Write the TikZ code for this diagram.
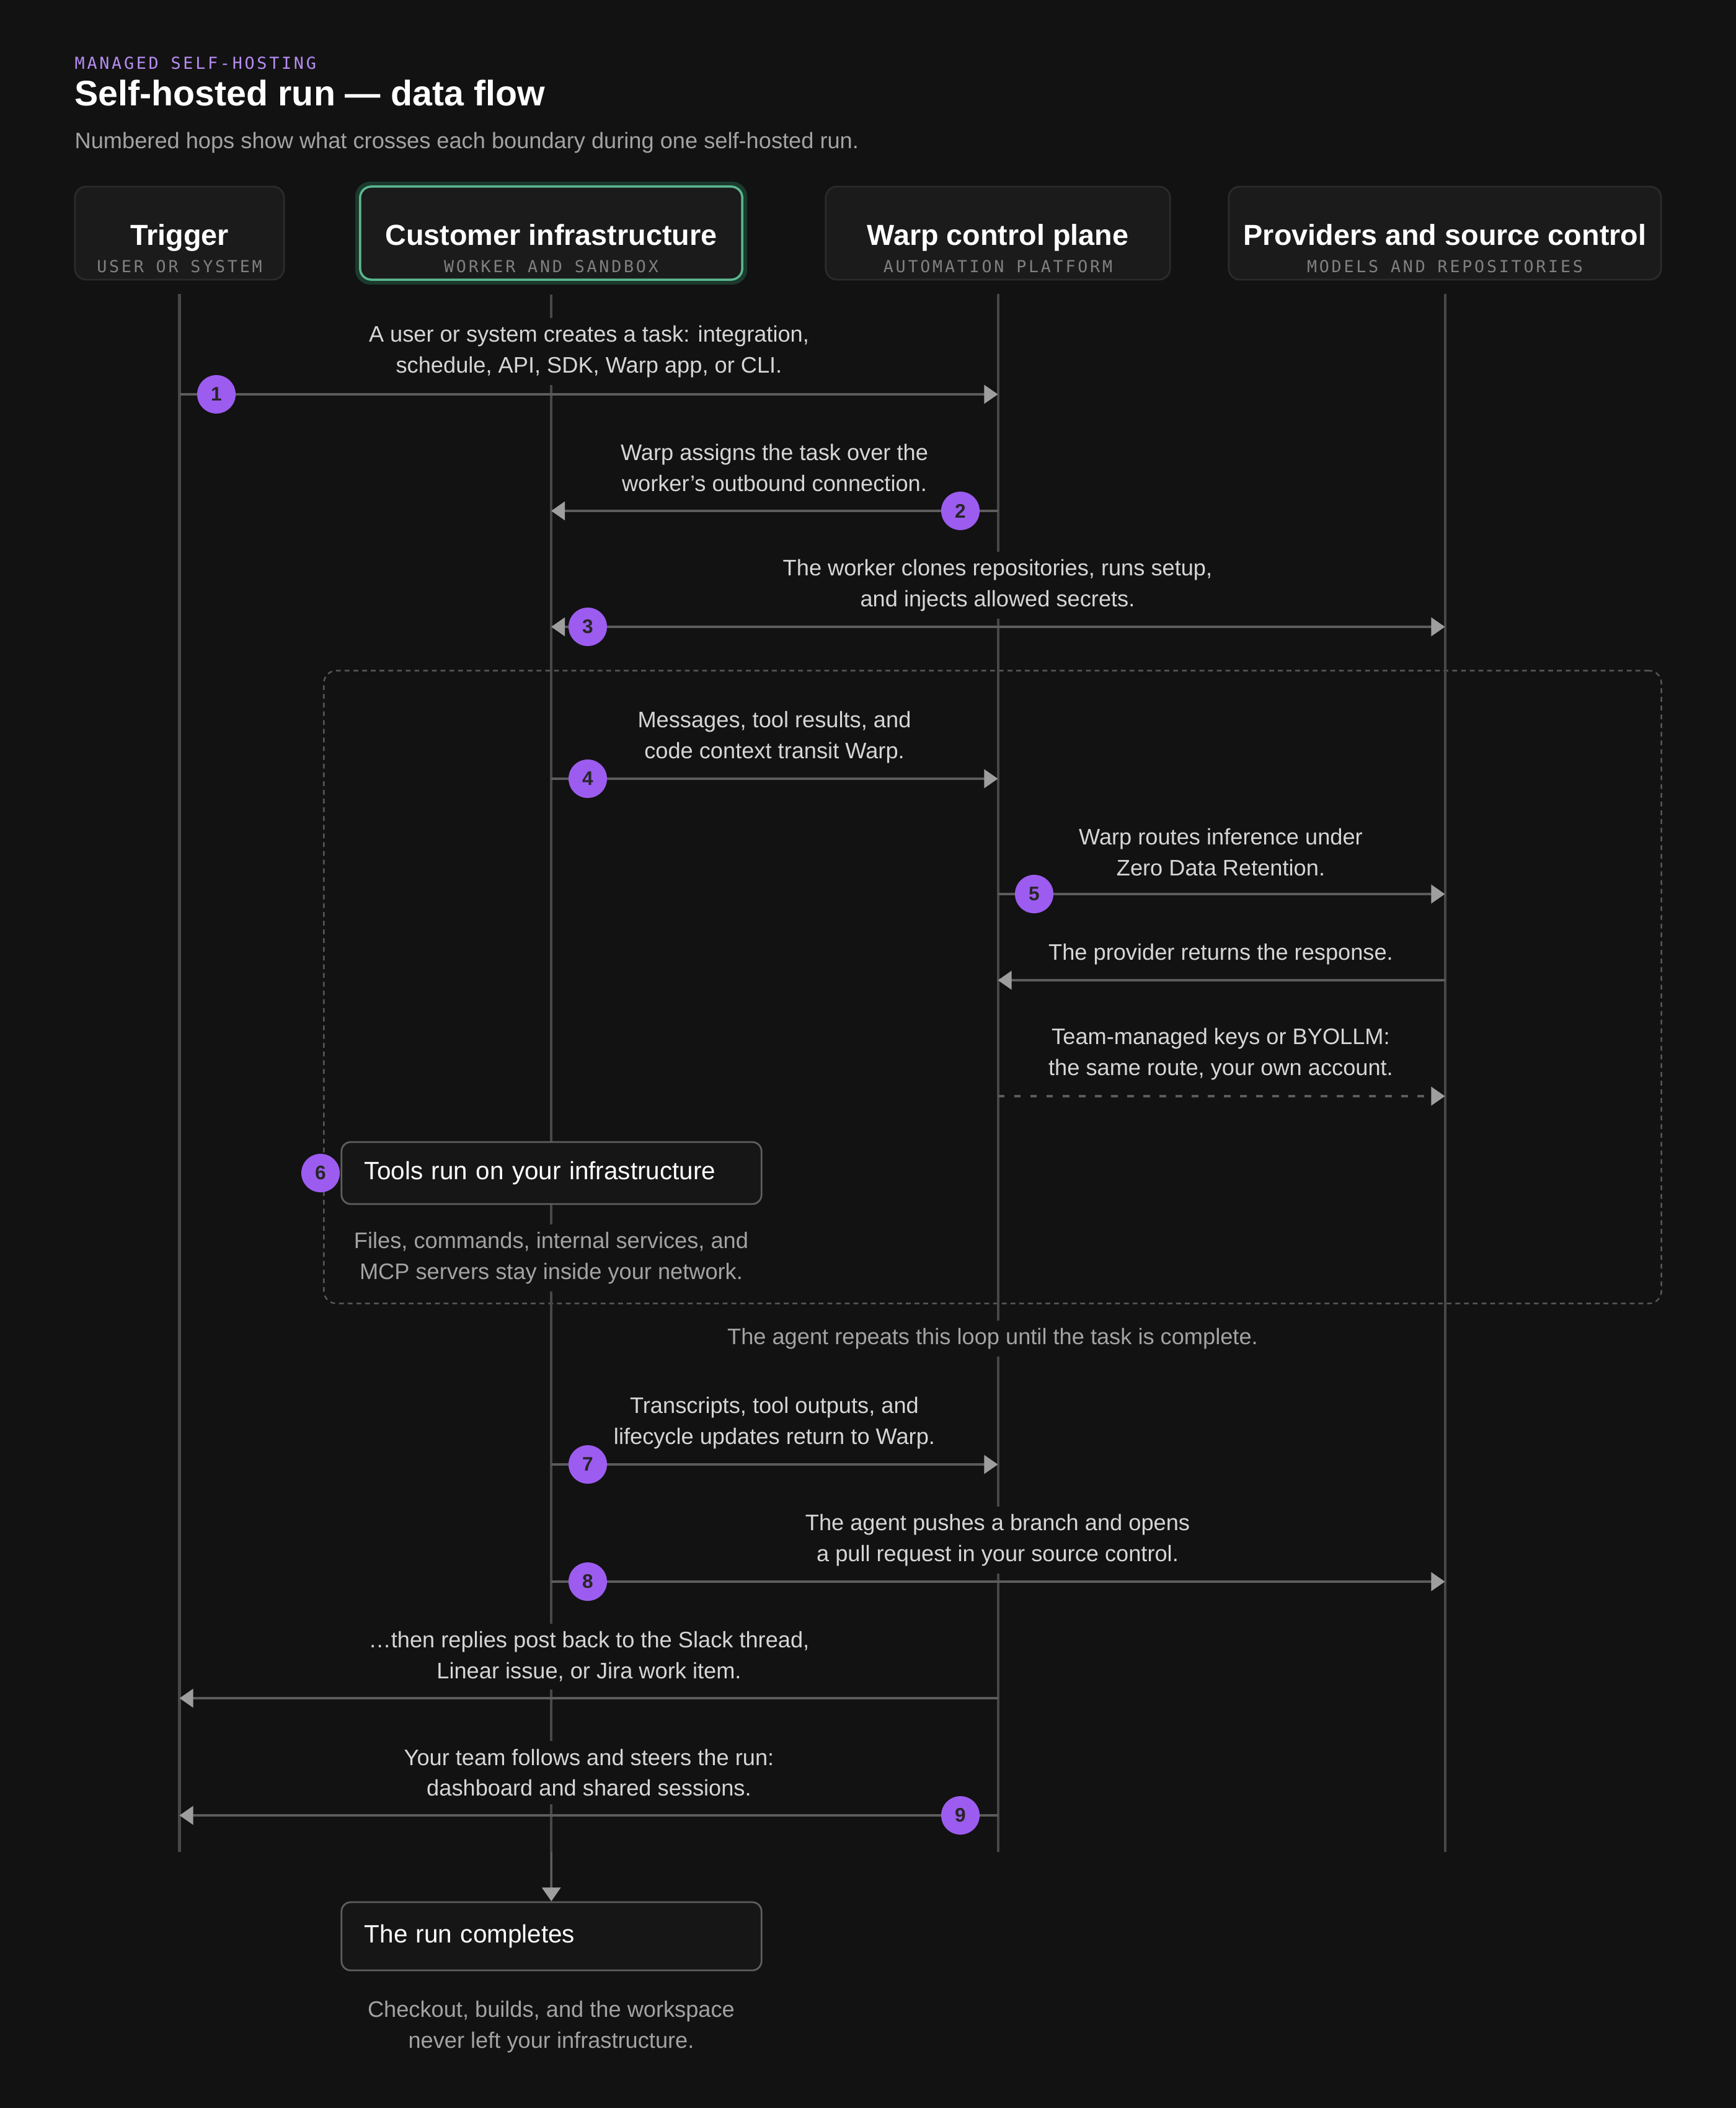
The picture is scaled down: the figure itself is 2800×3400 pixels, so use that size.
\documentclass[tikz,border=0pt]{standalone}
\usepackage{fontspec}
\setmainfont{Liberation Sans}
\newfontfamily\tagfamily{DejaVu Sans Mono}[LetterSpace=14]
\usepackage{tikz}
\usetikzlibrary{arrows.meta}
\pgfdeclarelayer{nodelayer}
\pgfdeclarelayer{edgelayer}
\pgfsetlayers{edgelayer,nodelayer,main}

\definecolor{bg}{HTML}{121212}
\definecolor{panel}{HTML}{1B1B1B}
\definecolor{panelline}{HTML}{2B2B2B}
\definecolor{mint}{HTML}{5CB892}
\definecolor{mintglow}{HTML}{1B3A2E}
\definecolor{lifegray}{HTML}{484848}
\definecolor{msggray}{HTML}{5C5C5C}
\definecolor{tipgray}{HTML}{9E9E9E}
\definecolor{framegray}{HTML}{575757}
\definecolor{hopviolet}{HTML}{9D5CF0}
\definecolor{kickerviolet}{HTML}{B78DF2}
\definecolor{textlight}{HTML}{D6D6D6}
\definecolor{textdim}{HTML}{A3A3A3}
\definecolor{tagdim}{HTML}{808080}
\definecolor{boxline}{HTML}{5E5E5E}
\definecolor{boxfill}{HTML}{161616}

\newcommand\msgfont{\fontsize{10.3}{14.2}\selectfont}
\newcommand\headfont{\bfseries\fontsize{13.3}{16}\selectfont}
\newcommand\tagsize{\tagfamily\fontsize{7.6}{9}\selectfont}

\tikzset{
  >={Triangle[length=6.3pt,width=8.5pt,color=tipgray]},
  lane/.style={rectangle, rounded corners=0.18cm, fill=panel, draw=panelline, line width=0.8pt, minimum height=1.5cm},
  lanetitle/.style={anchor=base, text=white, font=\headfont, inner sep=0pt},
  lanetag/.style={anchor=base, text=tagdim, font=\tagsize, inner sep=0pt},
  life/.style={draw=lifegray, line width=1.15pt},
  msg/.style={draw=msggray, line width=1pt, ->},
  keyroute/.style={msg, dash pattern=on 3.1pt off 4.3pt},
  loopframe/.style={rectangle, draw=framegray, line width=0.7pt, dash pattern=on 2.2pt off 1.8pt, rounded corners=0.2cm},
  note/.style={fill=bg, text=textlight, font=\msgfont, align=center, inner sep=3.5pt},
  aside/.style={note, text=textdim},
  hop/.style={circle, fill=hopviolet, text=black!85, font=\bfseries\fontsize{9}{9}\selectfont, minimum size=0.62cm, inner sep=0pt},
  stepbox/.style={rectangle, rounded corners=0.15cm, draw=boxline, fill=boxfill, line width=0.8pt, minimum width=6.77cm, text width=6.03cm, inner xsep=0.37cm, align=left, text=white, font=\fontsize{11.5}{14}\selectfont},
}

\begin{document}
\begin{tikzpicture}[x=0.01cm, y=-0.01cm]
  \begin{pgfonlayer}{nodelayer}
    % heading
    \node[anchor=west, text=kickerviolet, font=\tagsize, inner sep=0pt] (kicker) at (120,102) {MANAGED SELF-HOSTING};
    \node[anchor=west, text=white, font=\bfseries\fontsize{16.3}{19}\selectfont, inner sep=0pt] (title) at (120,150) {Self-hosted run — data flow};
    \node[anchor=west, text=textdim, font=\msgfont, inner sep=0pt] (lede) at (120,230) {Numbered hops show what crosses each boundary during one self-hosted run.};

    % lanes
    \node[lane, minimum width=3.37cm] (trig) at (289.5,376) {};
    \node[lane, minimum width=6.16cm, draw=mint, line width=1pt] (cust) at (889,376) {};
    \node[lane, minimum width=5.55cm] (warp) at (1609.5,376) {};
    \node[lane, minimum width=6.97cm] (prov) at (2330.5,376) {};
    \node[lanetitle] (trigT) at (289.5,395) {Trigger};
    \node[lanetag] (trigS) at (289.5,439) {USER OR SYSTEM};
    \node[lanetitle] (custT) at (889,395) {Customer infrastructure};
    \node[lanetag] (custS) at (889,439) {WORKER AND SANDBOX};
    \node[lanetitle] (warpT) at (1609.5,395) {Warp control plane};
    \node[lanetag] (warpS) at (1609.5,439) {AUTOMATION PLATFORM};
    \node[lanetitle] (provT) at (2330.5,395) {Providers and source control};
    \node[lanetag] (provS) at (2330.5,439) {MODELS AND REPOSITORIES};

    % hop texts
    \node[note] (n1) at (950,567) {A user or system creates a task: integration,\\schedule, API, SDK, Warp app, or CLI.};
    \node[note] (n2) at (1249,755) {Warp assigns the task over the\\worker's outbound connection.};
    \node[note] (n3) at (1609,944) {The worker clones repositories, runs setup,\\and injects allowed secrets.};
    \node[note] (n4) at (1249,1189) {Messages, tool results, and\\code context transit Warp.};
    \node[note] (n5) at (1969,1375) {Warp routes inference under\\Zero Data Retention.};
    \node[note] (nret) at (1969,1539) {The provider returns the response.};
    \node[note] (nkey) at (1969,1700) {Team-managed keys or BYOLLM:\\the same route, your own account.};
    \node[stepbox, minimum height=1.0cm] (tools) at (889.5,1892) {Tools run on your infrastructure};
    \node[aside] (toolsnote) at (889,2029) {Files, commands, internal services, and\\MCP servers stay inside your network.};
    \node[aside] (loopnote) at (1601,2159) {The agent repeats this loop until the task is complete.};
    \node[note] (n7) at (1249,2295) {Transcripts, tool outputs, and\\lifecycle updates return to Warp.};
    \node[note] (n8) at (1609,2484) {The agent pushes a branch and opens\\a pull request in your source control.};
    \node[note] (npost) at (950,2672) {…then replies post back to the Slack thread,\\Linear issue, or Jira work item.};
    \node[note] (n9) at (950,2859) {Your team follows and steers the run:\\dashboard and shared sessions.};
    \node[stepbox, minimum height=1.1cm] (done) at (889.5,3123) {The run completes};
    \node[aside] (donenote) at (889,3269) {Checkout, builds, and the workspace\\never left your infrastructure.};

    % hops
    \node[hop] (h1) at (349,636) {1};
    \node[hop] (h2) at (1549,824) {2};
    \node[hop] (h3) at (948,1011) {3};
    \node[hop] (h4) at (948,1256) {4};
    \node[hop] (h5) at (1668,1442) {5};
    \node[hop] (h6) at (517,1892) {6};
    \node[hop] (h7) at (948,2362) {7};
    \node[hop] (h8) at (948,2551) {8};
    \node[hop] (h9) at (1549,2928) {9};
  \end{pgfonlayer}

  \begin{pgfonlayer}{edgelayer}
    \fill[bg] (0,0) rectangle (2800,3400);
    \draw[mintglow, line width=3.5pt, rounded corners=0.18cm] (cust.south west) rectangle (cust.north east);
    \node[loopframe, minimum width=21.56cm, minimum height=10.2cm] (loop) at (1601,1592) {};

    \coordinate (lifeend) at (0,2987);
    \foreach \who in {trig,cust,warp,prov}
      \draw[life] ([yshift=-0.22cm]\who.south) -- (\who |- lifeend);

    \coordinate (m1) at (0,636);
    \coordinate (m2) at (0,824);
    \coordinate (m3) at (0,1011);
    \coordinate (m4) at (0,1256);
    \coordinate (m5) at (0,1442);
    \coordinate (mret) at (0,1581);
    \coordinate (mkey) at (0,1768);
    \coordinate (m7) at (0,2362);
    \coordinate (m8) at (0,2551);
    \coordinate (mpost) at (0,2739);
    \coordinate (m9) at (0,2928);

    \draw[msg] (trig |- m1) -- (warp |- m1);
    \draw[msg] (warp |- m2) -- (cust |- m2);
    \draw[msg, <->] (cust |- m3) -- (prov |- m3);
    \draw[msg] (cust |- m4) -- (warp |- m4);
    \draw[msg] (warp |- m5) -- (prov |- m5);
    \draw[msg] (prov |- mret) -- (warp |- mret);
    \draw[keyroute] (warp |- mkey) -- (prov |- mkey);
    \draw[msg] (cust |- m7) -- (warp |- m7);
    \draw[msg] (cust |- m8) -- (prov |- m8);
    \draw[msg] (warp |- mpost) -- (trig |- mpost);
    \draw[msg] (warp |- m9) -- (trig |- m9);
    \draw[msg] (cust |- lifeend) -- (done);
  \end{pgfonlayer}
  \useasboundingbox (0,0) rectangle (2800,3400);
\end{tikzpicture}
\end{document}
